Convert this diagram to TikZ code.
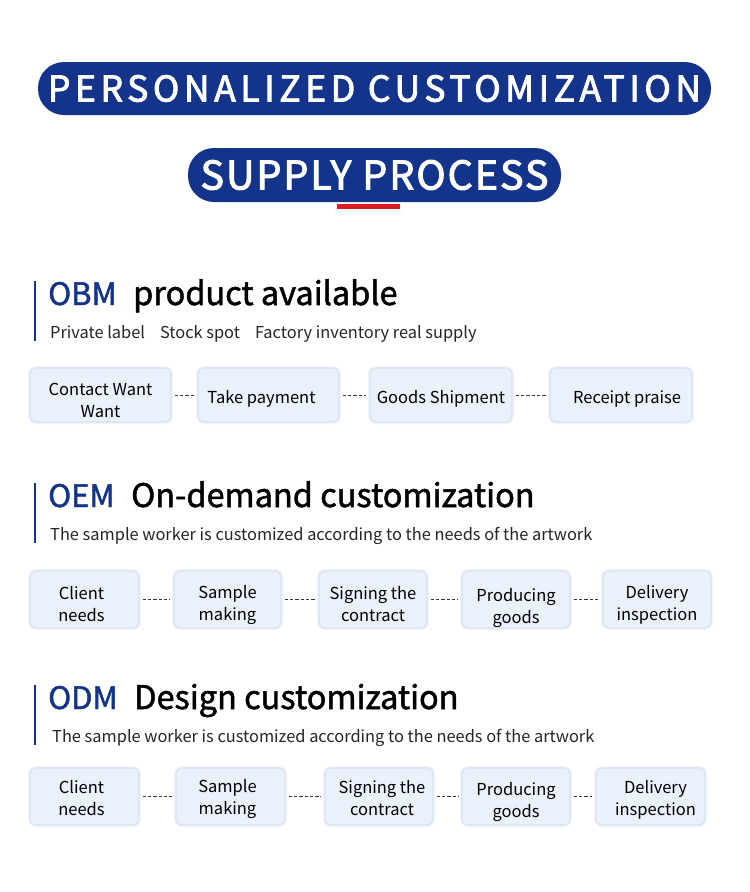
\documentclass[tikz,border=0pt]{standalone}
\usepackage{fontspec}
\setmainfont{Noto Sans CJK SC}
\newfontfamily\titlefont{Noto Sans CJK SC}[LetterSpace=13,FakeBold=2.5]
\newfontfamily\titlefontb{Noto Sans CJK SC}[LetterSpace=5,FakeBold=2.5]
\newfontfamily\headfont{Noto Sans CJK SC}[FakeBold=1.5]
\definecolor{navy}{HTML}{13348A}
\definecolor{boxfill}{HTML}{EAF1FB}
\definecolor{boxline}{HTML}{D8E2F1}
\definecolor{redbar}{HTML}{D81E1E}
\definecolor{dashc}{HTML}{333333}
\begin{document}
\begin{tikzpicture}[x=1pt,y=-1pt,
  banner/.style={fill=navy,rounded corners=26pt,text=white,inner sep=0pt},
  stepbox/.style={fill=boxfill,draw=boxline,line width=1.2pt,rounded corners=6pt,inner sep=0pt,
     preaction={draw=boxline,line width=4pt,opacity=0.35}},
  boxtext/.style={inner sep=0pt,align=center,font=\fontsize{16.5}{22}\selectfont},
  conn/.style={draw=dashc,line width=1pt,dash pattern=on 3.5pt off 1.8pt,shorten <=3pt,shorten >=3pt},
  sideline/.style={draw=navy,line width=2pt},
  abbr/.style={anchor=base west,inner sep=0pt,text=navy,font=\headfont\fontsize{31}{34}\selectfont},
  head/.style={anchor=base west,inner sep=0pt,text=black,font=\headfont\fontsize{32.5}{34}\selectfont},
  sub/.style={anchor=base west,inner sep=0pt,text=black!85,font=\fontsize{16.4}{20}\selectfont}]
\useasboundingbox (0,0) rectangle (750,892);
\fill[white] (0,0) rectangle (750,892);
% banners
\node[banner,minimum width=673pt,minimum height=53pt,font=\titlefont\fontsize{35.5}{40}\selectfont] (t1) at (374.5,88.5) {PERSONALIZED CUSTOMIZATION};
\node[banner,minimum width=373pt,minimum height=54pt,font=\titlefontb\fontsize{39.5}{44}\selectfont] (t2) at (374.5,175) {SUPPLY PROCESS};
\fill[redbar] (337,204) rectangle (400,209);
% OBM
\draw[sideline] (35,281) -- (35,341);
\node[abbr] (obm) at (48,305) {OBM};
\node[head] (obmh) at (133,305) {product available};
\node[sub] (obms) at (50,338) {Private label\hspace{15pt}Stock spot\hspace{15pt}Factory inventory real supply};
\node[stepbox,minimum width=141pt,minimum height=54pt] (a1) at (100.5,395) {};
\node[stepbox,minimum width=141pt,minimum height=54pt] (a2) at (268.5,395) {};
\node[stepbox,minimum width=142pt,minimum height=54pt] (a3) at (441,395) {};
\node[stepbox,minimum width=142pt,minimum height=54pt] (a4) at (621,395) {};
\node[boxtext] (a1t) at ([yshift=-5pt]a1.center) {Contact Want\\Want};
\node[boxtext] (a2t) at ([xshift=-7pt,yshift=-4pt]a2.center) {Take payment};
\node[boxtext] (a3t) at ([yshift=-4pt]a3.center) {Goods Shipment};
\node[boxtext] (a4t) at ([xshift=6pt,yshift=-4pt]a4.center) {Receipt praise};
\draw[conn] (a1) -- (a2);
\draw[conn] (a2) -- (a3);
\draw[conn] (a3) -- (a4);
% OEM
\draw[sideline] (35,483) -- (35,543);
\node[abbr] (oem) at (48,507) {OEM};
\node[head] (oemh) at (131,507) {On-demand customization};
\node[sub] (oems) at (50,540) {The sample worker is customized according to the needs of the artwork};
\node[stepbox,minimum width=109pt,minimum height=57pt] (b1) at (84.5,599.5) {};
\node[stepbox,minimum width=107pt,minimum height=57pt] (b2) at (227.5,599.5) {};
\node[stepbox,minimum width=108pt,minimum height=57pt] (b3) at (373,599.5) {};
\node[stepbox,minimum width=108pt,minimum height=57pt] (b4) at (516,599.5) {};
\node[stepbox,minimum width=108pt,minimum height=57pt] (b5) at (657,599.5) {};
\node[boxtext] (b1t) at ([xshift=-3pt,yshift=-5pt]b1.center) {Client\\needs};
\node[boxtext] (b2t) at ([yshift=-5pt]b2.center) {Sample\\making};
\node[boxtext] (b3t) at ([yshift=-5pt]b3.center) {Signing the\\contract};
\node[boxtext] (b4t) at ([yshift=-8pt]b4.center) {Producing\\goods};
\node[boxtext] (b5t) at ([yshift=-5pt]b5.center) {Delivery\\inspection};
\draw[conn] (b1) -- (b2);
\draw[conn] (b2) -- (b3);
\draw[conn] (b3) -- (b4);
\draw[conn] (b4) -- (b5);
% ODM
\draw[sideline] (35,685) -- (35,745);
\node[abbr] (odm) at (48,709) {ODM};
\node[head] (odmh) at (134,709) {Design customization};
\node[sub] (odms) at (52,742) {The sample worker is customized according to the needs of the artwork};
\node[stepbox,minimum width=109pt,minimum height=57pt] (c1) at (84.5,796.5) {};
\node[stepbox,minimum width=109pt,minimum height=57pt] (c2) at (230.5,796.5) {};
\node[stepbox,minimum width=108pt,minimum height=57pt] (c3) at (379,796.5) {};
\node[stepbox,minimum width=108pt,minimum height=57pt] (c4) at (516,796.5) {};
\node[stepbox,minimum width=109pt,minimum height=57pt] (c5) at (650.5,796.5) {};
\node[boxtext] (c1t) at ([xshift=-3pt,yshift=-2pt]c1.center) {Client\\needs};
\node[boxtext] (c2t) at ([xshift=-3pt,yshift=-2pt]c2.center) {Sample\\making};
\node[boxtext] (c3t) at ([xshift=3pt,yshift=-2pt]c3.center) {Signing the\\contract};
\node[boxtext] (c4t) at ([yshift=-5pt]c4.center) {Producing\\goods};
\node[boxtext] (c5t) at ([xshift=5pt,yshift=-3pt]c5.center) {Delivery\\inspection};
\draw[conn] (c1) -- (c2);
\draw[conn] (c2) -- (c3);
\draw[conn] (c3) -- (c4);
\draw[conn] (c4) -- (c5);
\end{tikzpicture}
\end{document}
